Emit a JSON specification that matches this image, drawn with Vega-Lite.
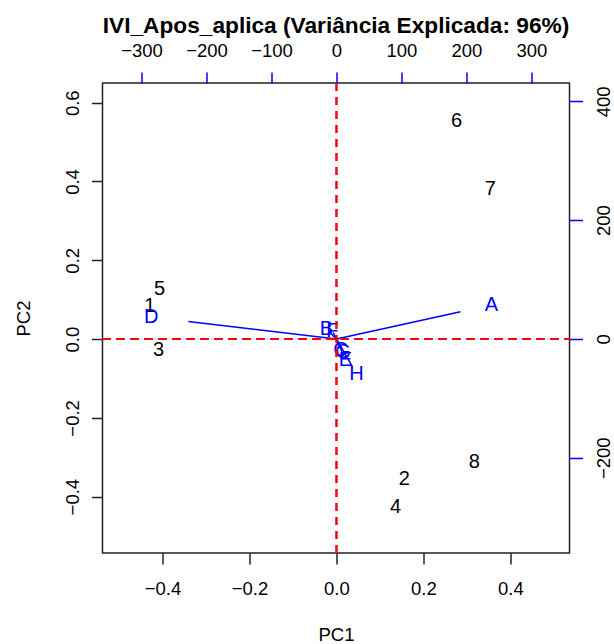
{
  "$schema": "https://vega.github.io/schema/vega-lite/v6.json",
  "width": 467,
  "height": 470,
  "autosize": {"type": "none"},
  "padding": {"left": 102.5, "top": 83, "right": 44.5, "bottom": 91},
  "background": "white",
  "title": {
    "text": "IVI_Apos_aplica (Variância Explicada: 96%)",
    "font": "Liberation Sans",
    "fontSize": 22.7,
    "fontWeight": "bold",
    "color": "#000000",
    "anchor": "middle",
    "baseline": "alphabetic",
    "offset": -15
  },
  "config": {
    "view": {"stroke": "#222222", "strokeWidth": 1.5},
    "font": "Liberation Sans",
    "axis": {
      "grid": false,
      "domain": false,
      "labelFont": "Liberation Sans",
      "labelFontSize": 18.5,
      "labelColor": "#000000",
      "titleFont": "Liberation Sans",
      "titleFontSize": 18.5,
      "titleFontWeight": "normal",
      "titleColor": "#000000",
      "tickSize": 11,
      "tickWidth": 1.5,
      "tickColor": "#222222",
      "labelFlush": false,
      "labelOverlap": false
    }
  },
  "layer": [
    {
      "data": {
        "values": [
          {"id": "6", "pc1": 0.276, "pc2": 0.553},
          {"id": "7", "pc1": 0.354, "pc2": 0.381},
          {"id": "5", "pc1": -0.407, "pc2": 0.126},
          {"id": "1", "pc1": -0.429, "pc2": 0.084},
          {"id": "3", "pc1": -0.409, "pc2": -0.028},
          {"id": "8", "pc1": 0.317, "pc2": -0.312},
          {"id": "2", "pc1": 0.156, "pc2": -0.355},
          {"id": "4", "pc1": 0.136, "pc2": -0.426}
        ]
      },
      "mark": {"type": "text", "font": "Liberation Sans", "fontSize": 20, "color": "#000000", "align": "center", "baseline": "middle"},
      "encoding": {
        "x": {
          "field": "pc1", "type": "quantitative",
          "scale": {"domain": [-0.538, 0.536], "nice": false, "zero": false},
          "axis": {
            "orient": "bottom", "values": [-0.4, -0.2, 0, 0.2, 0.4], "format": ".1f",
            "labelPadding": 15, "title": "PC1", "titleY": 72, "titleBaseline": "top"
          }
        },
        "y": {
          "field": "pc2", "type": "quantitative",
          "scale": {"domain": [-0.543, 0.65], "nice": false, "zero": false},
          "axis": {
            "orient": "left", "values": [-0.4, -0.2, 0, 0.2, 0.4, 0.6], "format": ".1f",
            "labelAngle": 270, "labelAlign": "center", "labelBaseline": "bottom", "labelPadding": 9,
            "title": "PC2", "titleAngle": 270, "titleX": -69.5, "titleY": 235, "titleAlign": "center", "titleBaseline": "bottom"
          }
        },
        "text": {"field": "id"}
      }
    },
    {
      "data": {
        "values": [
          {"var": "A", "v1": 238.5, "v2": 57.3, "ox": 0, "oy": 0, "ax": 190.8, "ay": 45.8},
          {"var": "B", "v1": -15.4, "v2": 16.0, "ox": 0, "oy": 0, "ax": -12.3, "ay": 12.8},
          {"var": "C", "v1": 6.2, "v2": -18.5, "ox": 0, "oy": 0, "ax": 5.0, "ay": -14.8},
          {"var": "D", "v1": -285, "v2": 36.6, "ox": 0, "oy": 0, "ax": -228, "ay": 29.3},
          {"var": "E", "v1": 13.8, "v2": -35.4, "ox": 0, "oy": 0, "ax": 11.0, "ay": -28.3},
          {"var": "F", "v1": -6.2, "v2": 13.5, "ox": 0, "oy": 0, "ax": -5.0, "ay": 10.8},
          {"var": "G", "v1": 10.0, "v2": -22.0, "ox": 0, "oy": 0, "ax": 8.0, "ay": -17.6},
          {"var": "H", "v1": 30.8, "v2": -59.0, "ox": 0, "oy": 0, "ax": 24.6, "ay": -47.2}
        ]
      },
      "encoding": {
        "x": {
          "field": "ox", "type": "quantitative",
          "scale": {"domain": [-360, 358.5], "nice": false, "zero": false},
          "axis": {
            "orient": "top", "values": [-300, -200, -100, 0, 100, 200, 300],
            "tickColor": "#0000FF", "labelPadding": 12, "labelBaseline": "bottom", "title": null
          }
        },
        "y": {
          "field": "oy", "type": "quantitative",
          "scale": {"domain": [-360.5, 431], "nice": false, "zero": false},
          "axis": {
            "orient": "right", "values": [-200, 0, 200, 400], "tickColor": "#0000FF", "tickSize": 13,
            "labelAngle": 270, "labelAlign": "center", "labelBaseline": "top", "labelPadding": 12, "title": null
          }
        }
      },
      "layer": [
        {
          "mark": {"type": "rule", "color": "#0000FF", "strokeWidth": 1.5},
          "encoding": {
            "x2": {"field": "ax"},
            "y2": {"field": "ay"}
          }
        },
        {
          "mark": {"type": "text", "font": "Liberation Sans", "fontSize": 20, "color": "#0000FF", "align": "center", "baseline": "middle"},
          "encoding": {
            "x": {"field": "v1", "type": "quantitative"},
            "y": {"field": "v2", "type": "quantitative"},
            "text": {"field": "var"}
          }
        },
        {
          "mark": {"type": "rule", "color": "#FF0000", "strokeDash": [8, 6], "strokeWidth": 1.3},
          "encoding": {"x": {"field": "ox", "type": "quantitative"}, "y": {"value": 0}, "y2": {"value": 470}}
        },
        {
          "mark": {"type": "rule", "color": "#FF0000", "strokeDash": [8, 6], "strokeWidth": 1.3},
          "encoding": {"x": {"value": 0}, "x2": {"value": 467}, "y": {"field": "oy", "type": "quantitative"}}
        }
      ]
    }
  ],
  "resolve": {"scale": {"x": "independent", "y": "independent"}}
}
